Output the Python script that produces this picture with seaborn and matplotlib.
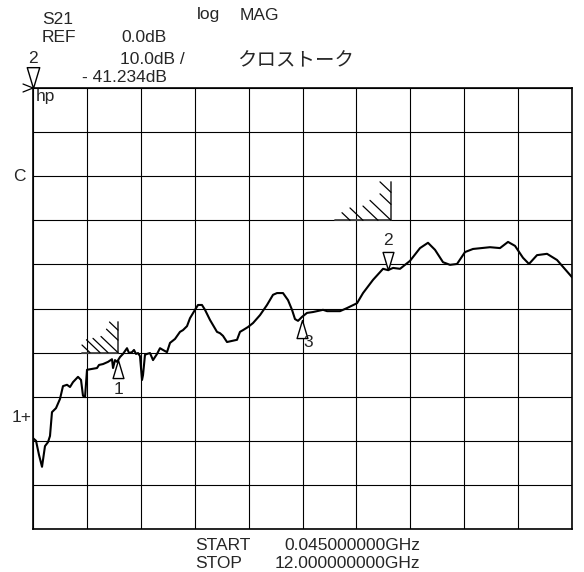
import numpy as np
import pandas as pd
import seaborn as sns
import matplotlib.pyplot as plt
from matplotlib.path import Path

# ======================
# Data
# ======================

freq_ghz = [
    0.045, 0.112, 0.178, 0.245, 0.311, 0.378, 0.422, 0.466, 0.555, 0.644,
    0.710, 0.799, 0.866, 0.932, 1.043, 1.110, 1.154, 1.199, 1.243, 1.354,
    1.465, 1.509, 1.598, 1.709, 1.797, 1.820, 1.864, 1.908, 1.975, 2.041,
    2.130, 2.174, 2.241, 2.285, 2.330, 2.374, 2.418, 2.463, 2.485, 2.529,
    2.574, 2.640, 2.707, 2.796, 2.862, 2.928, 3.017, 3.084, 3.195, 3.305,
    3.372, 3.461, 3.527, 3.638, 3.705, 3.793, 3.860, 3.971, 4.126, 4.193,
    4.259, 4.348, 4.570, 4.636, 4.703, 4.814, 4.925, 5.080, 5.235, 5.368,
    5.457, 5.590, 5.701, 5.790, 5.856, 5.923, 6.012, 6.123, 6.256, 6.478,
    6.567, 6.855, 7.010, 7.232, 7.365, 7.587, 7.809, 7.920, 8.031, 8.186,
    8.407, 8.629, 8.806, 8.962, 9.139, 9.294, 9.450, 9.627, 9.804, 10.181,
    10.403, 10.581, 10.736, 10.913, 11.046, 11.224, 11.446, 11.668, 12.000,
]

mag_db = [
    -79.4, -80.0, -83.2, -85.9, -81.2, -80.3, -78.9, -73.5, -72.6, -70.5,
    -67.6, -67.3, -67.8, -66.7, -65.5, -66.2, -69.8, -70.1, -63.9, -63.7,
    -63.5, -62.8, -62.6, -62.1, -61.5, -63.5, -61.7, -62.1, -61.0, -60.3,
    -59.0, -60.1, -59.9, -59.4, -60.3, -60.1, -60.8, -66.2, -65.1, -60.5,
    -60.3, -60.1, -61.7, -60.3, -59.0, -59.4, -59.9, -57.8, -56.9, -55.3,
    -54.9, -54.0, -52.2, -50.3, -49.2, -49.2, -50.3, -52.6, -55.3, -55.6,
    -56.2, -57.6, -57.1, -55.3, -54.9, -54.2, -53.3, -51.5, -49.2, -46.9,
    -46.5, -46.5, -48.1, -50.3, -52.4, -52.8, -51.9, -51.0, -50.8, -50.3,
    -50.6, -50.6, -49.9, -48.8, -46.5, -43.5, -41.0, -41.3, -40.8, -41.0,
    -39.2, -36.3, -35.1, -36.7, -39.5, -40.1, -39.9, -37.2, -36.5, -36.1,
    -36.3, -34.9, -35.8, -38.5, -39.9, -37.9, -37.6, -39.0, -42.9,
]

# markers
marker_ids = ["1", "2", "3"]
marker_freq = [1.937, 7.920, 6.005]
marker_db = [-61.7, -41.234, -52.6]

# limit lines (L-shaped)
limit1_freq = [1.13, 1.93, 1.93]
limit1_db = [-60.0, -60.0, -53.1]
limit2_freq = [6.75, 7.985, 7.985]
limit2_db = [-30.0, -30.0, -21.3]

start_ghz = 0.045
stop_ghz = 12.0
ref_db = 0.0
scale_db = 10.0
active_db = -41.234

df = pd.DataFrame({"freq": freq_ghz, "mag": mag_db})

# ======================
# Figure
# ======================

sns.set_theme(style="white")
plt.rcParams["font.family"] = ["Liberation Sans", "Noto Sans CJK JP", "DejaVu Sans"]

W, H = 584, 572
FS = 12.5
fig = plt.figure(figsize=(W / 100, H / 100), dpi=100)
ax = fig.add_axes([33 / W, 43 / H, 539 / W, 441 / H])

ax.set_xlim(start_ghz, stop_ghz)
ax.set_ylim(ref_db - 10 * scale_db, ref_db)
ax.set_xticks(np.linspace(start_ghz, stop_ghz, 11))
ax.set_yticks(np.linspace(ref_db - 10 * scale_db, ref_db, 11))
ax.grid(True, color="black", lw=0.8)
ax.tick_params(length=0, labelbottom=False, labelleft=False)
for s in ax.spines.values():
    s.set_color("black")
    s.set_linewidth(1.2)

sns.lineplot(data=df, x="freq", y="mag", ax=ax, color="black", lw=1.5, zorder=4)
ax.set_xlabel("")
ax.set_ylabel("")

# pixel -> data scale
px_x = (stop_ghz - start_ghz) / 539
px_y = 10 * scale_db / 441

# limit lines with hatching
def draw_limit(fx, fy, ticks):
    ax.plot(fx, fy, color="#444444", lw=1.3, zorder=3)
    cx, cy = fx[1], fy[1]
    for ex, ey, ln in ticks:
        x1 = cx + ex * px_x
        y1 = cy + ey * px_y
        ax.plot([x1 - ln * px_x, x1], [y1 + ln * 0.95 * px_y, y1],
                color="black", lw=0.9, zorder=3)

draw_limit(limit1_freq, limit1_db,
           [(-28, 0, 8), (-18, 0, 13.5), (-10, 0, 15), (0, 0, 17),
            (0, 12.5, 11.5), (0, 22.5, 8.5)])
draw_limit(limit2_freq, limit2_db,
           [(-41, 0, 8), (-28, 0, 13), (-13, 0, 15), (0, 0, 21),
            (0, 16, 11), (0, 28, 11)])

# marker triangles
up_tri = Path([(0, 0), (0.3, -1), (-0.3, -1), (0, 0)], closed=True)
dn_tri = Path([(0, 0), (0.3, 1), (-0.3, 1), (0, 0)], closed=True)

for mid, mf, md in zip(marker_ids, marker_freq, marker_db):
    shape = dn_tri if mid == "2" else up_tri
    ax.plot([mf], [md], marker=shape, ms=26, mfc="white", mec="black",
            mew=1.0, ls="none", zorder=6)
    if mid == "2":
        off = (0, 21)
    elif mid == "3":
        off = (5, -16.5)
    else:
        off = (0, -21)
    ax.annotate(mid, (mf, md), xytext=off, textcoords="offset points",
                ha="center", va="center", fontsize=FS, zorder=7)

# reference position: active marker 2 and ">" at top-left
ax.plot([start_ghz], [ref_db], marker=dn_tri, ms=30, mfc="white", mec="black",
        mew=1.0, ls="none", clip_on=False, zorder=6)
ax.annotate("2", (start_ghz, ref_db), xytext=(0, 21), textcoords="offset points",
            ha="center", va="center", fontsize=FS, annotation_clip=False)
ax.plot([start_ghz - 10 * px_x, start_ghz, start_ghz - 10 * px_x],
        [ref_db + 4 * px_y, ref_db, ref_db - 4 * px_y],
        color="black", lw=0.9, clip_on=False)

# ======================
# Screen annotations
# ======================

def ftext(x, y, s, ha="left", size=FS):
    fig.text(x / W, 1 - y / H, s, ha=ha, va="center", fontsize=size)

ftext(42, 20, "S21")
ftext(42, 37, "REF")
ftext(167, 37, f"{ref_db:.1f}dB", ha="right")
ftext(185, 59, f"{scale_db:.1f}dB /", ha="right")
ftext(167, 77, f"- {abs(active_db):.3f}dB", ha="right")
ftext(197, 15, "log")
ftext(240, 15, "MAG")
ftext(237, 62, "クロストーク", size=14)

ftext(36, 97, "hp")
ftext(13, 177, "C")
ftext(12, 417, "1+")

ftext(195, 545, "START")
ftext(420, 545, f"{start_ghz:.9f}GHz", ha="right")
ftext(195, 563, "STOP")
ftext(420, 563, f"{stop_ghz:.9f}GHz", ha="right")

fig.savefig("out.png", dpi=100)
plt.close()
